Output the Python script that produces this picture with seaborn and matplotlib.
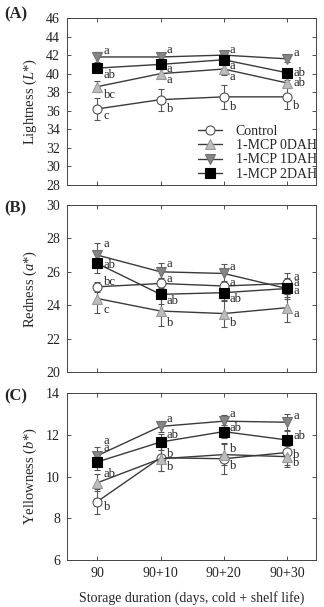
import numpy as np
import matplotlib
matplotlib.use("Agg")
import matplotlib.pyplot as plt
import seaborn as sns
import pandas as pd

# storage time points
days = ["90", "90+10", "90+20", "90+30"]
treatments = ["Control", "1-MCP 0DAH", "1-MCP 1DAH", "1-MCP 2DAH"]

# (A) Lightness L*
L_control = [36.2, 37.2, 37.5, 37.5]
L_0dah = [38.6, 40.0, 40.5, 39.0]
L_1dah = [41.8, 41.8, 42.0, 41.6]
L_2dah = [40.6, 41.0, 41.5, 40.1]
L_err_control = [1.2, 1.2, 1.3, 1.3]
L_err_0dah = [0.6, 0.5, 0.6, 0.3]
L_err_1dah = [0.5, 0.3, 0.3, 0.3]
L_err_2dah = [0.4, 0.4, 0.4, 0.3]
L_let_control = ["c", "b", "b", "b"]
L_let_0dah = ["bc", "a", "a", "ab"]
L_let_1dah = ["a", "a", "a", "a"]
L_let_2dah = ["ab", "a", "a", "ab"]

# (B) Redness a*
a_control = [25.1, 25.3, 25.15, 25.3]
a_0dah = [24.4, 23.65, 23.5, 23.85]
a_1dah = [27.0, 26.0, 25.9, 25.0]
a_2dah = [26.5, 24.65, 24.75, 25.0]
a_err_control = [0.3, 0.3, 0.3, 0.6]
a_err_0dah = [0.85, 0.9, 0.8, 0.85]
a_err_1dah = [0.7, 0.5, 0.55, 0.6]
a_err_2dah = [0.6, 0.6, 0.5, 0.5]
a_let_control = ["bc", "a", "a", "a"]
a_let_0dah = ["c", "b", "b", "a"]
a_let_1dah = ["a", "a", "a", "a"]
a_let_2dah = ["ab", "ab", "ab", "a"]

# (C) Yellowness b*
b_control = [8.8, 10.9, 10.85, 11.15]
b_0dah = [9.7, 10.85, 11.05, 10.95]
b_1dah = [11.0, 12.4, 12.65, 12.6]
b_2dah = [10.7, 11.65, 12.15, 11.75]
b_err_control = [0.6, 0.65, 0.75, 0.6]
b_err_0dah = [0.4, 0.6, 0.5, 0.5]
b_err_1dah = [0.4, 0.25, 0.3, 0.4]
b_err_2dah = [0.4, 0.4, 0.3, 0.5]
b_let_control = ["b", "b", "b", "b"]
b_let_0dah = ["ab", "b", "b", "b"]
b_let_1dah = ["a", "a", "a", "a"]
b_let_2dah = ["a", "ab", "ab", "ab"]

# vertical offsets (points) for the letter labels, per treatment
L_dy = [[-4.8, -6.7, -7.2, -6.7], [-6, -4.6, -6, 0], [4.5, 5, 4, 4.5], [-4.8, -3.4, -4.8, 0]]
a_dy = [[3.8, 2.9, 1.9, 0], [-8.4, -8.4, -6.7, -4.3], [7.9, 5.3, 4.8, 8.6], [-1.2, -4.8, -4.3, -1.6]]
b_dy = [[-3.6, -7, -5.5, -1.7], [6.2, 3.4, 4, -4.5], [10.8, 5.5, 5.5, 4.8], [10, 5, 2.4, 3]]

styles = [
    dict(marker="o", mfc="white", mec="#505050"),
    dict(marker="^", mfc="#bdbdbd", mec="#9a9a9a"),
    dict(marker="v", mfc="#858585", mec="#707070"),
    dict(marker="s", mfc="black", mec="black"),
]

sns.set_style("ticks")
plt.rcParams["font.family"] = ["Liberation Serif", "DejaVu Serif"]
plt.rcParams["mathtext.fontset"] = "custom"
plt.rcParams["mathtext.rm"] = "Liberation Serif"
plt.rcParams["mathtext.it"] = "Liberation Serif:italic"

fig = plt.figure(figsize=(3.24, 6.07), dpi=100)
ax_pos = [
    [67 / 324, 1 - 185 / 607, 249 / 324, 167 / 607],
    [67 / 324, 1 - 372 / 607, 249 / 324, 167 / 607],
    [67 / 324, 1 - 560 / 607, 249 / 324, 167 / 607],
]
tag_y = [14, 208, 396]

panels = [
    ("(A)", r"Lightness ($\mathit{L}$*)", (28, 46), np.arange(28, 47, 2),
     [L_control, L_0dah, L_1dah, L_2dah],
     [L_err_control, L_err_0dah, L_err_1dah, L_err_2dah],
     [L_let_control, L_let_0dah, L_let_1dah, L_let_2dah], L_dy),
    ("(B)", r"Redness ($\mathit{a}$*)", (20, 30), np.arange(20, 31, 2),
     [a_control, a_0dah, a_1dah, a_2dah],
     [a_err_control, a_err_0dah, a_err_1dah, a_err_2dah],
     [a_let_control, a_let_0dah, a_let_1dah, a_let_2dah], a_dy),
    ("(C)", r"Yellowness ($\mathit{b}$*)", (6, 14), np.arange(6, 15, 2),
     [b_control, b_0dah, b_1dah, b_2dah],
     [b_err_control, b_err_0dah, b_err_1dah, b_err_2dah],
     [b_let_control, b_let_0dah, b_let_1dah, b_let_2dah], b_dy),
]

x = np.arange(len(days))
for i, (tag, ylab, ylim, yticks, vals, errs, lets, dys) in enumerate(panels):
    ax = fig.add_axes(ax_pos[i])
    for j, name in enumerate(treatments):
        ax.errorbar(x, vals[j], yerr=errs[j], fmt="none", ecolor="#555555",
                    elinewidth=0.8, capsize=2.5, capthick=0.8, zorder=2)
        df = pd.DataFrame({"x": x, "y": vals[j]})
        sns.lineplot(data=df, x="x", y="y", ax=ax, color="#3a3a3a", lw=1.0,
                     ms=6.5, mew=0.8, label=name, zorder=3, **styles[j])
        for k in range(len(days)):
            ax.annotate(lets[j][k], (x[k], vals[j][k]), xytext=(4.5, dys[j][k]),
                        textcoords="offset points", ha="left", va="center",
                        fontsize=9, color="#222222")
    ax.set_xlim(-0.48, 3.46)
    ax.set_ylim(*ylim)
    ax.set_yticks(yticks)
    ax.set_xticks(x)
    if i == 2:
        ax.set_xticklabels(days)
        ax.set_xlabel("Storage duration (days, cold + shelf life)", fontsize=10, labelpad=8)
    else:
        ax.set_xticklabels([])
        ax.set_xlabel("")
    ax.set_ylabel(ylab, fontsize=10.5, labelpad=5)
    ax.tick_params(direction="in", top=True, right=True, length=3, width=0.6,
                   labelsize=10, pad=5, colors="#333333", labelcolor="#222222")
    for s in ax.spines.values():
        s.set_linewidth(0.7)
        s.set_color("#444444")
    if i == 0:
        ax.legend(loc="lower right", bbox_to_anchor=(1.02, 0.0), frameon=False,
                  fontsize=10, handlelength=1.7, handletextpad=1.0,
                  labelspacing=0.1, borderaxespad=0, borderpad=0.3)
    else:
        ax.get_legend().remove()
    fig.text(4 / 324, 1 - tag_y[i] / 607, tag, fontsize=12, fontweight="bold",
             ha="left", va="center")

fig.savefig("out.png", dpi=100)
